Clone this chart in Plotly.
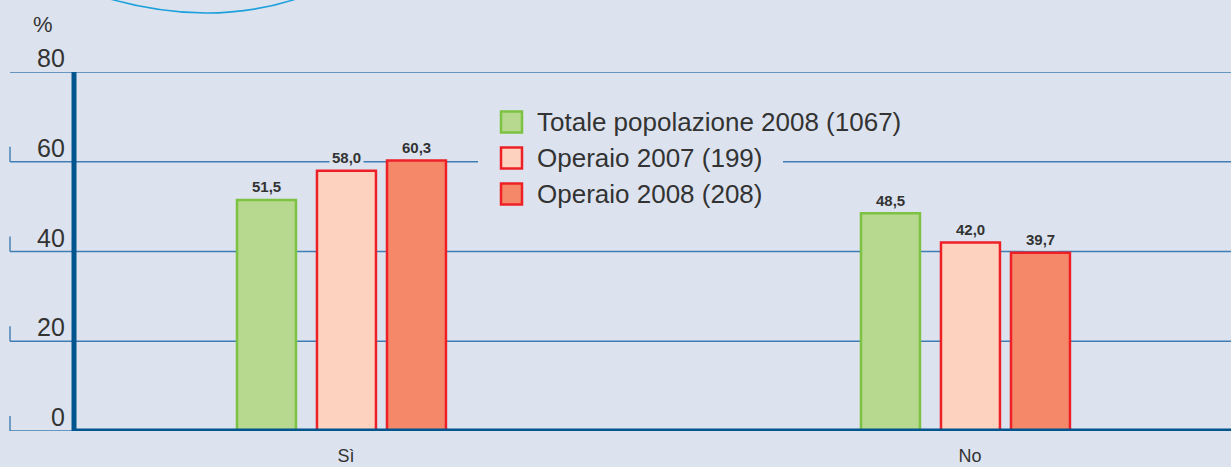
import plotly.graph_objects as go

# ---- data ----
categories = ["Sì", "No"]
series_names = ["Totale popolazione 2008 (1067)", "Operaio 2007 (199)", "Operaio 2008 (208)"]
totale_2008 = [51.5, 48.5]
operaio_2007 = [58.0, 42.0]
operaio_2008 = [60.3, 39.7]
y_ticks = [0, 20, 40, 60, 80]
y_tick_labels = ["0", "20", "40", "60", "80"]

# ---- styles ----
BG = "#dce3ef"
GRID = "#3f7db3"
AXIS = "#00558f"
TXT = "#333333"
FILLS = ["#b6d98f", "#fdd3bf", "#f58868"]
LINES = ["#7dc242", "#ee2027", "#ee2027"]
OFFSETS = [-0.1747, -0.0465, 0.0657]
BAR_W = 0.0945

W, H = 1231, 467
L, R, T, B = 74, 0, 72, 36
PW = W - L - R
PH = H - T - B


def px_x(px):
    return (px - L) / PW


def px_y(py):
    return (H - B - py) / PH


fig = go.Figure()
series = [totale_2008, operaio_2007, operaio_2008]
for name, vals, fc, lc, off in zip(series_names, series, FILLS, LINES, OFFSETS):
    fig.add_trace(go.Bar(
        x=categories, y=vals, name=name,
        marker=dict(color=fc, line=dict(color=lc, width=2.5)),
        offset=off, width=BAR_W, showlegend=False, hoverinfo="skip",
    ))

shapes = []
annotations = []

# gridlines + small tick marks on the left
for v in y_ticks:
    shapes.append(dict(type="line", xref="paper", yref="y", x0=px_x(10), x1=1, y0=v, y1=v,
                       line=dict(color=GRID, width=1.4), layer="below"))
    shapes.append(dict(type="line", xref="paper", yref="y", x0=px_x(10), x1=px_x(10), y0=v,
                       y1=v + 15 * 80 / PH, line=dict(color=GRID, width=1.4), layer="below"))

# legend background (breaks the gridline)
shapes.append(dict(type="rect", xref="paper", yref="paper", x0=px_x(478), x1=px_x(783),
                   y0=px_y(215), y1=px_y(98), fillcolor=BG, line=dict(width=0), layer="below"))

# thick axes
shapes.append(dict(type="line", xref="paper", yref="y", x0=0, x1=0, y0=0, y1=80,
                   line=dict(color=AXIS, width=5)))
shapes.append(dict(type="line", xref="paper", yref="y", x0=0, x1=1, y0=0, y1=0,
                   line=dict(color=AXIS, width=5)))

# decorative arc at top
shapes.append(dict(type="path", xref="paper", yref="paper",
                   path=f"M {px_x(100)},{px_y(-4)} Q {px_x(210)},{px_y(30)} {px_x(305)},{px_y(-4)}",
                   line=dict(color="#1ea0dc", width=1.6)))

# y tick labels
for v, t in zip(y_ticks, y_tick_labels):
    annotations.append(dict(xref="paper", yref="y", x=px_x(67), y=v, text=t, showarrow=False,
                            xanchor="right", yanchor="bottom", yshift=-2,
                            font=dict(family="Liberation Sans, Arial", size=25, color=TXT)))
annotations.append(dict(xref="paper", yref="paper", x=px_x(43), y=px_y(24), text="%", showarrow=False,
                        xanchor="center", yanchor="middle",
                        font=dict(family="Liberation Sans, Arial", size=22, color=TXT)))

# value labels
for vals, off in zip(series, OFFSETS):
    for i, v in enumerate(vals):
        annotations.append(dict(xref="x", yref="y", x=i + off + BAR_W / 2, y=v,
                                text="<b>" + f"{v:.1f}".replace(".", ",") + "</b>",
                                showarrow=False, xanchor="center", yanchor="middle", yshift=13,
                                bgcolor=BG, borderpad=2,
                                font=dict(family="Liberation Sans Narrow, Liberation Sans, Arial",
                                          size=15, color=TXT)))

# manual legend
for k, (name, fc, lc) in enumerate(zip(series_names, FILLS, LINES)):
    cy = 122 + 36 * k
    shapes.append(dict(type="rect", xref="paper", yref="paper", x0=px_x(501), x1=px_x(522),
                       y0=px_y(cy + 10.5), y1=px_y(cy - 10.5), fillcolor=fc,
                       line=dict(color=lc, width=2.5)))
    annotations.append(dict(xref="paper", yref="paper", x=px_x(535), y=px_y(cy), text=name,
                            showarrow=False, xanchor="left", yanchor="middle",
                            font=dict(family="Liberation Sans, Arial", size=26, color=TXT)))

x0_range = (346 - L) / 624
fig.update_layout(
    width=W, height=H,
    margin=dict(l=L, r=R, t=T, b=B),
    paper_bgcolor=BG, plot_bgcolor=BG,
    barmode="overlay",
    shapes=shapes, annotations=annotations,
    xaxis=dict(type="category", range=[-x0_range, -x0_range + PW / 624], showgrid=False,
               zeroline=False, showline=False, ticks="", ticklabelstandoff=12,
               tickfont=dict(family="Liberation Sans, Arial", size=18, color=TXT)),
    yaxis=dict(range=[0, 80], showgrid=False, zeroline=False, showline=False,
               showticklabels=False, ticks=""),
    showlegend=False,
)

fig.write_html("out.html", config={"displayModeBar": False},
               post_script="document.body.style.margin='0';document.body.style.background='#dce3ef';")
